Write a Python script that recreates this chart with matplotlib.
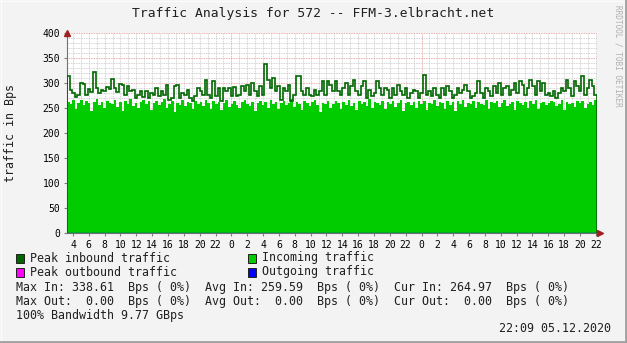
import numpy as np
import matplotlib
matplotlib.use("Agg")
import matplotlib.pyplot as plt
from matplotlib.patches import Rectangle
from matplotlib.lines import Line2D

# time window in hours (day 1 midnight = 0)
t_start = 3.25
t_end = 70.15

# peak inbound (30-min max), Bps
peak_in = [
    313, 285, 280, 272, 275, 300, 298, 276, 288, 282, 322, 290, 280, 285, 283, 292, 288, 307, 290, 282,
    298, 296, 275, 294, 284, 286, 270, 276, 283, 272,
    283, 270, 280, 276, 289, 273, 283, 276, 296, 266, 270, 293, 296, 270, 279, 276, 286, 270, 263, 273,
    289, 283, 276, 306, 276, 270, 303, 273, 289, 263, 289, 283, 289, 273, 292, 273,
    276, 293, 283, 296, 276, 299, 283, 273, 293, 276, 338.6, 306, 289, 309, 283, 293, 266, 289, 283, 296,
    263, 276, 313, 313, 283, 276, 289, 276, 273, 286, 276, 283, 303, 276,
    303, 296, 283, 303, 283, 276, 289, 299, 276, 293, 306, 283, 276, 293, 303, 270, 286, 273, 279, 303,
    289, 276, 289, 286, 270, 289, 276, 296, 283, 276, 289, 270, 279, 286,
    283, 270, 279, 316, 276, 283, 273, 289, 276, 270, 289, 276, 293, 283, 270, 276, 289, 279, 286, 296,
    283, 270, 273, 279, 303, 279, 270, 289, 283, 273, 293, 279, 299, 276, 289,
    293, 276, 286, 299, 279, 303, 296, 276, 289, 306, 293, 276, 303, 283, 299, 276, 279, 273, 283, 270,
    279, 289, 283, 306, 289, 273, 303, 293, 283, 313, 276, 289, 306, 293, 276,
]

# incoming traffic (average), Bps
incoming = [
    262, 258, 265, 247, 260, 266, 255, 263, 259, 244, 262, 268, 256, 261, 250, 264, 259,
    257, 266, 252, 261, 243, 263, 258, 267, 254, 260, 249, 262, 265, 257, 263, 246, 259,
    264, 255, 261, 268, 250, 258, 263, 241, 260, 256, 266, 253, 262, 259, 247, 264, 257,
    261, 254, 266, 259, 248, 263, 257, 262, 245, 260, 265, 252, 258, 263, 256, 249, 261,
    266, 258, 253, 262, 244, 259, 264, 256, 261, 250, 265, 257, 262, 248, 259, 263, 255,
    260, 267, 251, 262, 257, 246, 264, 259, 253, 261, 266, 255, 242, 260, 258, 263, 250,
    257, 264, 259, 248, 262, 256, 265, 253, 260, 245, 263, 258, 261, 254, 267, 249, 262,
    259, 256, 264, 247, 261, 258, 263, 252, 260, 266, 244, 259, 262, 255, 261, 250, 264,
    258, 263, 246, 260, 257, 265, 253, 262, 259, 248, 264, 256, 261, 243, 263, 258, 266,
    252, 260, 257, 264, 249, 262, 258, 255, 265, 247, 261, 259, 263, 251, 260, 266, 254,
    258, 262, 245, 264, 259, 256, 261, 250, 263, 257, 266, 248, 260, 262, 255, 259, 264,
    261, 253, 258, 265, 246, 262, 257, 260, 252, 264, 259, 263, 250, 258, 261, 256, 265,
]

legend_items = [
    ("Peak inbound traffic", "#006600"),
    ("Incoming traffic", "#00CC00"),
    ("Peak outbound traffic", "#FF00FF"),
    ("Outgoing traffic", "#0000FF"),
]
stats_lines = [
    "Max In: 338.61  Bps ( 0%)  Avg In: 259.59  Bps ( 0%)  Cur In: 264.97  Bps ( 0%)",
    "Max Out:  0.00  Bps ( 0%)  Avg Out:  0.00  Bps ( 0%)  Cur Out:  0.00  Bps ( 0%)",
    "100% Bandwidth 9.77 GBps",
]
stamp = "22:09 05.12.2020"

mono = "DejaVu Sans Mono"
W, H = 627, 343
fig = plt.figure(figsize=(W / 100, H / 100), dpi=100, facecolor="#F3F3F3")

def fx(px):
    return px / W

def fy(py):
    return 1 - py / H

# 3d-ish frame: light top/left, grey bottom/right
frame = [
    ((0, 0.5), (H - 0.5, H - 0.5), "#FCFCFC"),
    ((0.5, 0.5), (0, H), "#FCFCFC"),
    ((0, W), (1, 1), "#A0A0A0"),
    ((W - 1, W - 1), (0, H), "#A0A0A0"),
]
fig.lines.append(Line2D([0, 1], [1 - 0.5 / H] * 2, transform=fig.transFigure, color="#FCFCFC", lw=1))
fig.lines.append(Line2D([0.5 / W] * 2, [0, 1], transform=fig.transFigure, color="#FCFCFC", lw=1))
fig.lines.append(Line2D([0, 1], [1.2 / H] * 2, transform=fig.transFigure, color="#A0A0A0", lw=2))
fig.lines.append(Line2D([1 - 1.2 / W] * 2, [0, 1], transform=fig.transFigure, color="#A0A0A0", lw=2))

ax = fig.add_axes([fx(67), fy(233), fx(530), 200 / H])
ax.set_facecolor("white")

edges = np.linspace(t_start, t_end, len(peak_in) + 1)
ax.stairs(incoming, edges, fill=True, color="#00CC00", zorder=3, linewidth=0)
ax.stairs(peak_in, edges, color="#006600", linewidth=1.2, zorder=4)
ax.axhline(0, color="#0000FF", linewidth=1, zorder=5)

ax.set_xlim(t_start, t_end)
ax.set_ylim(0, 400)

# grid
for v in range(10, 401, 10):
    major = v % 50 == 0
    ax.axhline(v, color="#E09090" if major else "#C4C4C4", linewidth=0.6,
               linestyle=(0, (1, 1)), zorder=1)
for h in range(4, 71):
    major = h % 24 == 0
    ax.axvline(h, color="#E09090" if major else "#C4C4C4", linewidth=0.6,
               linestyle=(0, (1, 1)), zorder=1)

xt = list(range(4, 71, 2))
ax.set_xticks(xt)
ax.set_xticklabels([str(h % 24) for h in xt], fontfamily=mono, fontsize=7)
ax.set_yticks(range(0, 401, 50))
ax.set_yticklabels([str(v) for v in range(0, 401, 50)], fontfamily=mono, fontsize=7)
ax.tick_params(axis="both", length=2, color="#808080", pad=3)
for s in ["top", "right"]:
    ax.spines[s].set_visible(False)
ax.spines["left"].set_color("#707070")
ax.spines["bottom"].set_color("#707070")
ax.spines["left"].set_linewidth(0.8)
ax.spines["bottom"].set_linewidth(0.8)

# axis arrows
ax.plot([0], [1], marker="^", color="#A02020", markersize=4, transform=ax.transAxes,
        clip_on=False, zorder=6)
ax.plot([1.005], [0], marker=">", color="#A02020", markersize=4, transform=ax.transAxes,
        clip_on=False, zorder=6)

fig.text(fx(313), fy(13), "Traffic Analysis for 572 -- FFM-3.elbracht.net", fontfamily=mono,
         fontsize=9.4, ha="center", va="center", color="#202020")
fig.text(fx(11), fy(133), "traffic in Bps", fontfamily=mono, fontsize=8.4, rotation=90,
         ha="center", va="center", color="#202020")
fig.text(fx(618), fy(5), "RRDTOOL / TOBI OETIKER", fontfamily=mono, fontsize=5.6, rotation=270,
         ha="center", va="top", color="#B0B0B0")

# legend
pos = [(16, 258), (248, 258), (16, 272), (248, 272)]
for (label, col), (x, y) in zip(legend_items, pos):
    fig.patches.append(Rectangle((fx(x), fy(y + 4.5)), fx(8), 8.5 / H, transform=fig.transFigure,
                                 facecolor=col, edgecolor="#202020", linewidth=0.7))
    fig.text(fx(x + 14), fy(y), label, fontfamily=mono, fontsize=8.4, va="center", color="#202020")

for i, line in enumerate(stats_lines):
    fig.text(fx(16), fy(287 + i * 14.3), line, fontfamily=mono, fontsize=8.4, va="center",
             color="#202020")
fig.text(fx(611), fy(329), stamp, fontfamily=mono, fontsize=8.4, va="center", ha="right",
         color="#202020")

fig.savefig("out.png", dpi=100, facecolor=fig.get_facecolor())
